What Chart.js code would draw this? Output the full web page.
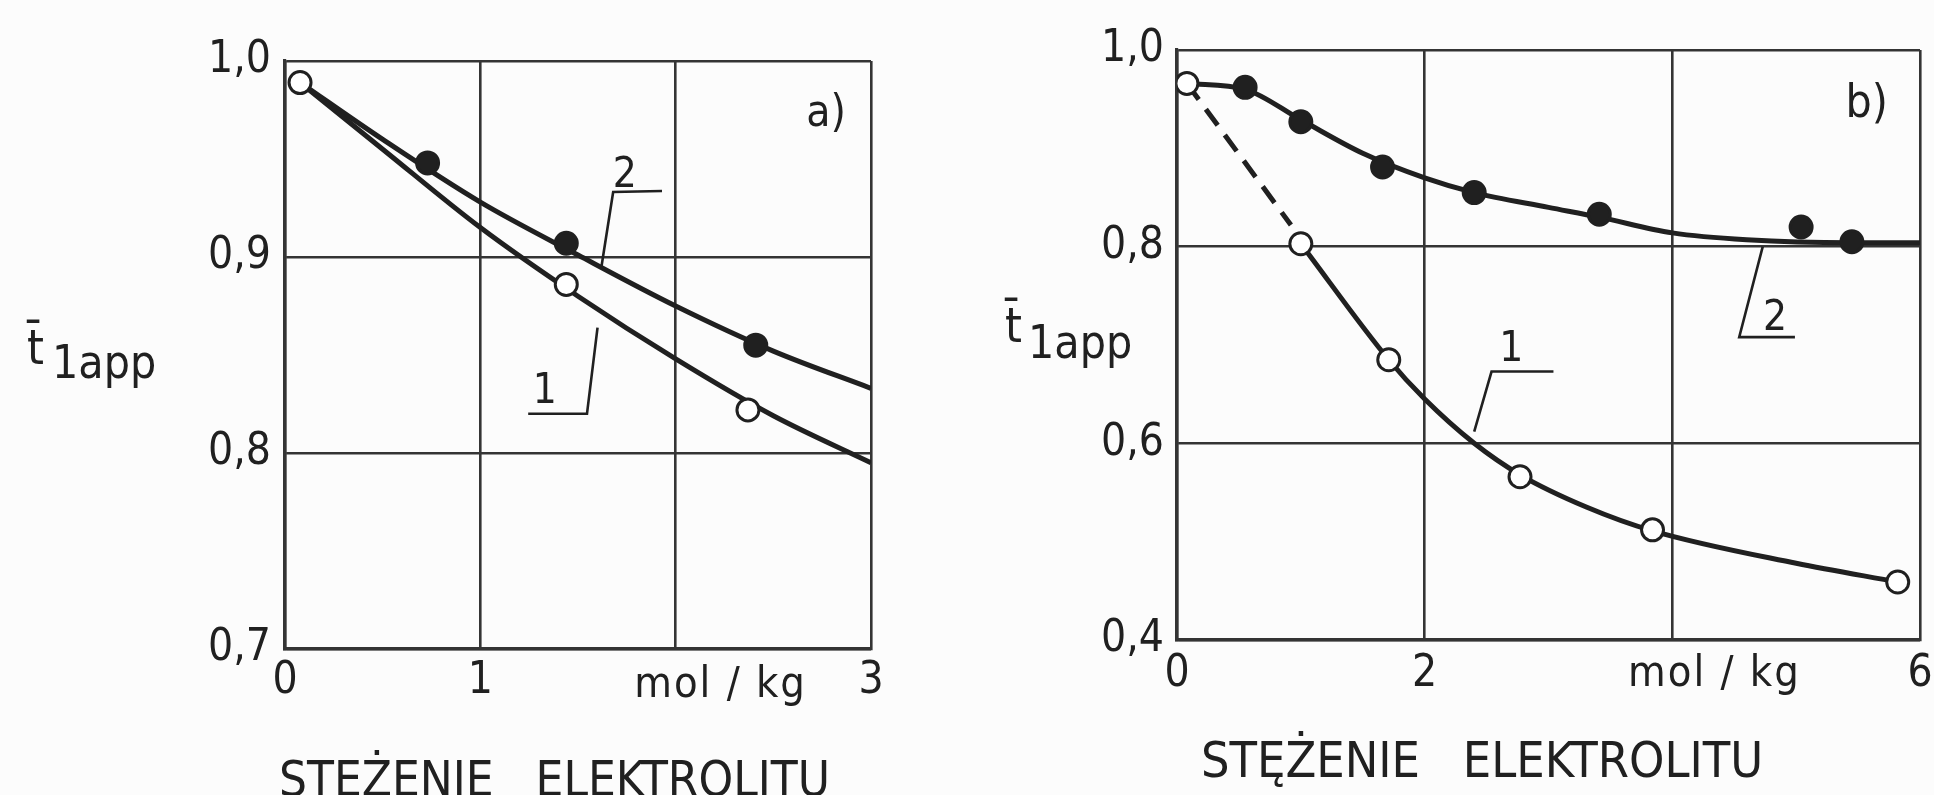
<!DOCTYPE html>
<html><head><meta charset="utf-8">
<script src="https://cdn.jsdelivr.net/npm/chart.js@4/dist/chart.umd.min.js"></script>
<style>
html,body{margin:0;padding:0;background:#fcfcfc;overflow:hidden;width:1934px;height:795px}
#ca{position:absolute;left:0;top:0}
#cb{position:absolute;left:967px;top:0}
</style></head><body>
<canvas id="ca" width="967" height="795"></canvas>
<canvas id="cb" width="967" height="795"></canvas>
<script>
// ---------- data: panel a ----------
const xTicksA = [0, 1, 2, 3];
const xLabelsA = ['0', '1', '', '3'];
const yTicksA = [0.7, 0.8, 0.9, 1.0];
const yLabelsA = ['0,7', '0,8', '0,9', '1,0'];
const curve1A = [[0.077,0.989],[0.5,0.955],[1.0,0.915],[1.5,0.880],[2.0,0.848],[2.5,0.819],[3.0,0.795]];
const curve2A = [[0.077,0.989],[0.5,0.960],[1.0,0.928],[1.5,0.901],[2.0,0.875],[2.5,0.852],[3.0,0.833]];
const openA   = [[0.077,0.989],[1.44,0.886],[2.37,0.822]];
const filledA = [[0.73,0.948],[1.44,0.907],[2.41,0.855]];

// ---------- data: panel b ----------
const xTicksB = [0, 2, 4, 6];
const xLabelsB = ['0', '2', '', '6'];
const yTicksB = [0.4, 0.6, 0.8, 1.0];
const yLabelsB = ['0,4', '0,6', '0,8', '1,0'];
const curve1Bdash = [[0.08,0.966],[0.92,0.822]];
const curve1B = [[1.0,0.803],[1.71,0.685],[2.0,0.645],[2.4,0.600],[2.77,0.568],[3.31,0.535],[3.84,0.511],[5.0,0.478],[5.82,0.459]];
const curve2B = [[0.08,0.966],[0.55,0.960],[1.0,0.929],[1.5,0.895],[2.0,0.870],[2.4,0.855],[3.0,0.840],[3.41,0.830],[4.0,0.814],[4.6,0.807],[5.45,0.804],[6.0,0.804]];
const openB   = [[0.08,0.966],[1.0,0.803],[1.71,0.685],[2.77,0.566],[3.84,0.512],[5.82,0.459]];
const filledB = [[0.55,0.962],[1.0,0.927],[1.66,0.881],[2.40,0.855],[3.41,0.833],[5.04,0.820],[5.45,0.805]];

// ---------- styling ----------
const FONT = "'Liberation Sans Narrow','DejaVu Sans Condensed','Arial Narrow',sans-serif";
const INK = '#202020';
const GRID = '#343434';
const pts = a => a.map(p => ({x: p[0], y: p[1]}));

const notesPlugin = {
  id: 'notes',
  afterDraw(chart, args, o) {
    const ctx = chart.ctx, xs = chart.scales.x, ys = chart.scales.y;
    const X = v => xs.getPixelForValue(v), Y = v => ys.getPixelForValue(v);
    ctx.save();
    ctx.fillStyle = INK; ctx.strokeStyle = INK;
    ctx.lineWidth = 2.6; ctx.lineJoin = 'miter'; ctx.lineCap = 'butt';
    (o.leaders || []).forEach(line => {
      ctx.beginPath();
      line.forEach((p, i) => i ? ctx.lineTo(X(p[0]), Y(p[1])) : ctx.moveTo(X(p[0]), Y(p[1])));
      ctx.stroke();
    });
    (o.texts || []).forEach(t => {
      ctx.font = t.size + 'px ' + FONT;
      ctx.textAlign = t.align || 'center';
      ctx.textBaseline = 'alphabetic';
      ctx.letterSpacing = (t.ls || 0) + 'px';
      const px = t.px != null ? t.px : X(t.x);
      const py = t.py != null ? t.py : Y(t.y);
      ctx.fillText(t.text, px, py);
    });
    ctx.restore();
  }
};

function makeChart(id, cfg) {
  const lineDs = (data, dash) => ({
    data: pts(data), showLine: true, pointRadius: 0, borderColor: INK, borderWidth: 5,
    cubicInterpolationMode: 'monotone', borderDash: dash || [], order: 2, fill: false
  });
  const markDs = (data, filled) => ({
    data: pts(data), showLine: false, pointRadius: 11, pointHoverRadius: 11,
    pointBorderWidth: 3, pointBorderColor: INK,
    pointBackgroundColor: filled ? INK : '#ffffff', order: 1
  });
  const datasets = [];
  cfg.lines.forEach(l => datasets.push(lineDs(l[0], l[1])));
  datasets.push(markDs(cfg.open, false));
  datasets.push(markDs(cfg.filled, true));
  return new Chart(document.getElementById(id), {
    type: 'line',
    data: {datasets},
    plugins: [notesPlugin],
    options: {
      responsive: false, animation: false, events: [],
      layout: {padding: cfg.pad},
      plugins: {legend: {display: false}, tooltip: {enabled: false}, notes: cfg.notes},
      scales: {
        x: {
          type: 'linear', min: cfg.xTicks[0], max: cfg.xTicks[cfg.xTicks.length - 1],
          afterBuildTicks: s => { s.ticks = cfg.xTicks.map(v => ({value: v})); },
          afterFit: s => { s.height = cfg.xH; s.paddingLeft = 0; s.paddingRight = 0; },
          ticks: {autoSkip: false, maxRotation: 0, padding: cfg.xPad, color: INK,
                  font: {family: FONT, size: 44},
                  callback: (v, i) => cfg.xLabels[i]},
          grid: {color: GRID, lineWidth: 2.6, drawTicks: false},
          border: {color: GRID, width: 3.2}
        },
        y: {
          type: 'linear', min: cfg.yTicks[0], max: cfg.yTicks[cfg.yTicks.length - 1],
          afterBuildTicks: s => { s.ticks = cfg.yTicks.map(v => ({value: v})); },
          afterFit: s => { s.width = cfg.yW; s.paddingTop = 0; s.paddingBottom = 0; },
          ticks: {autoSkip: false, padding: cfg.yPad, color: INK,
                  font: {family: FONT, size: 44},
                  callback: (v, i) => cfg.yLabels[i]},
          grid: {color: GRID, lineWidth: 2.6, drawTicks: false},
          border: {color: GRID, width: 3.2}
        }
      }
    }
  });
}

// panel a
makeChart('ca', {
  lines: [[curve1A], [curve2A]], open: openA, filled: filledA,
  xTicks: xTicksA, xLabels: xLabelsA, yTicks: yTicksA, yLabels: yLabelsA,
  pad: {left: 0, top: 61, right: 96, bottom: 0}, xH: 146, yW: 285, xPad: 6, yPad: 14,
  notes: {
    leaders: [
      [[1.93,0.9337],[1.68,0.9332],[1.62,0.895]],
      [[1.245,0.820],[1.546,0.820],[1.60,0.864]]
    ],
    texts: [
      {text: '2', x: 1.74, y: 0.9357, size: 42},
      {text: '1', x: 1.33, y: 0.8255, size: 42},
      {text: 'a)', x: 2.77, y: 0.967, size: 44},
      {text: 'mol / kg', x: 2.23, py: 697, size: 43, ls: 2},
      {text: 't\u0304', px: 27, py: 364, size: 48, align: 'left'},
      {text: '1app', px: 52, py: 378, size: 46, align: 'left'},
      {text: 'STEŻENIE   ELEKTROLITU', px: 279, py: 796, size: 49, align: 'left'}
    ]
  }
});

// panel b
makeChart('cb', {
  lines: [[curve1Bdash, [20, 12]], [curve1B], [curve2B]], open: openB, filled: filledB,
  xTicks: xTicksB, xLabels: xLabelsB, yTicks: yTicksB, yLabels: yLabelsB,
  pad: {left: 0, top: 50, right: 8, bottom: 0}, xH: 155, yW: 210, xPad: 8, yPad: 13,
  notes: {
    leaders: [
      [[4.73,0.80],[4.54,0.708],[4.99,0.708]],
      [[2.40,0.612],[2.54,0.673],[3.04,0.673]]
    ],
    texts: [
      {text: '2', x: 4.83, y: 0.715, size: 42},
      {text: '1', x: 2.70, y: 0.684, size: 42},
      {text: 'b)', x: 5.57, y: 0.932, size: 46},
      {text: 'mol / kg', x: 4.34, py: 686, size: 43, ls: 2},
      {text: 't\u0304', px: 38, py: 342, size: 48, align: 'left'},
      {text: '1app', px: 61, py: 358, size: 46, align: 'left'},
      {text: 'STĘŻENIE   ELEKTROLITU', px: 234, py: 777, size: 50, align: 'left'}
    ]
  }
});
</script>
</body></html>
